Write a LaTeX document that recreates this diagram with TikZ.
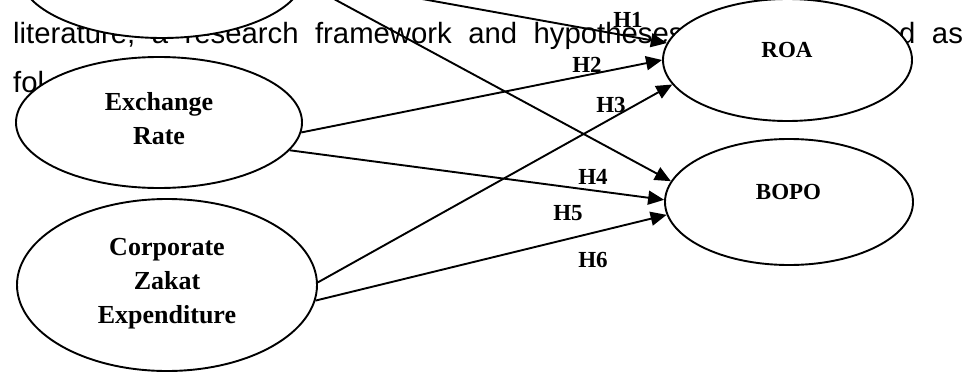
\documentclass[tikz,border=0pt]{standalone}
\usepackage{fontspec}
\setmainfont{Liberation Serif}
\newfontfamily\bodyfont{Liberation Sans}
\usetikzlibrary{shapes.geometric,arrows.meta}

\begin{document}
\begin{tikzpicture}[x=1pt,y=-1pt,
  construct/.style={ellipse, draw, line width=1.9pt, fill=white, inner sep=0pt},
  bigname/.style={align=center, inner sep=0pt, font=\fontsize{26}{34}\selectfont\bfseries},
  smallname/.style={inner sep=0pt, font=\fontsize{23}{23}\selectfont\bfseries},
  effect/.style={line width=1.9pt, -{Triangle[length=16pt,width=14pt]}},
  hyp/.style={inner sep=0pt, font=\fontsize{23}{23}\selectfont\bfseries},
  prose/.style={anchor=base west, inner sep=0pt, font=\bodyfont\fontsize{29.3}{29.3}\selectfont},
]
\useasboundingbox (0,0) rectangle (977,372);

% running text of the page behind the figure
\node[prose] (txtA) at (13,43) {\spaceskip=16.5pt\relax literature, a research framework and hypotheses};
\node[prose] (txtB) at (899,43) {\spaceskip=16.5pt\relax d as};
\node[prose] (txtC) at (13,92) {fol};

% constructs
\node[construct, minimum width=286pt, minimum height=130pt] (infl) at (162,-27) {};
\node[construct, minimum width=286pt, minimum height=131pt] (exch) at (159,122.5) {};
\node[construct, minimum width=300pt, minimum height=172pt] (zakat) at (167,285) {};
\node[construct, minimum width=249pt, minimum height=122pt] (roa) at (787.5,60) {};
\node[construct, minimum width=248pt, minimum height=126pt] (bopo) at (789,202) {};

\node[bigname] (exchT) at (159,119) {Exchange\\Rate};
\node[bigname] (zakatT) at (167,284) {Corporate\\Zakat\\Expenditure};
\node[smallname] (roaT) at (787,50) {ROA};
\node[smallname] (bopoT) at (788.5,192) {BOPO};

% hypothesised paths
\draw[effect] (infl.-2) -- (roa.172);
\draw[effect] (exch.-4.3) -- (roa.180);
\draw[effect] (zakat.1.1) -- (roa.-168.7);
\draw[effect] (infl.-4.9) -- (bopo.170.8);
\draw[effect] (exch.-12.3) -- (bopo.179);
\draw[effect] (zakat.-6.6) -- (bopo.186);

% path labels
\node[hyp] (h1) at (628,20) {H1};
\node[hyp] (h2) at (587,65) {H2};
\node[hyp] (h3) at (611,105) {H3};
\node[hyp] (h4) at (593,177) {H4};
\node[hyp] (h5) at (568,213) {H5};
\node[hyp] (h6) at (593,260) {H6};
\end{tikzpicture}
\end{document}
